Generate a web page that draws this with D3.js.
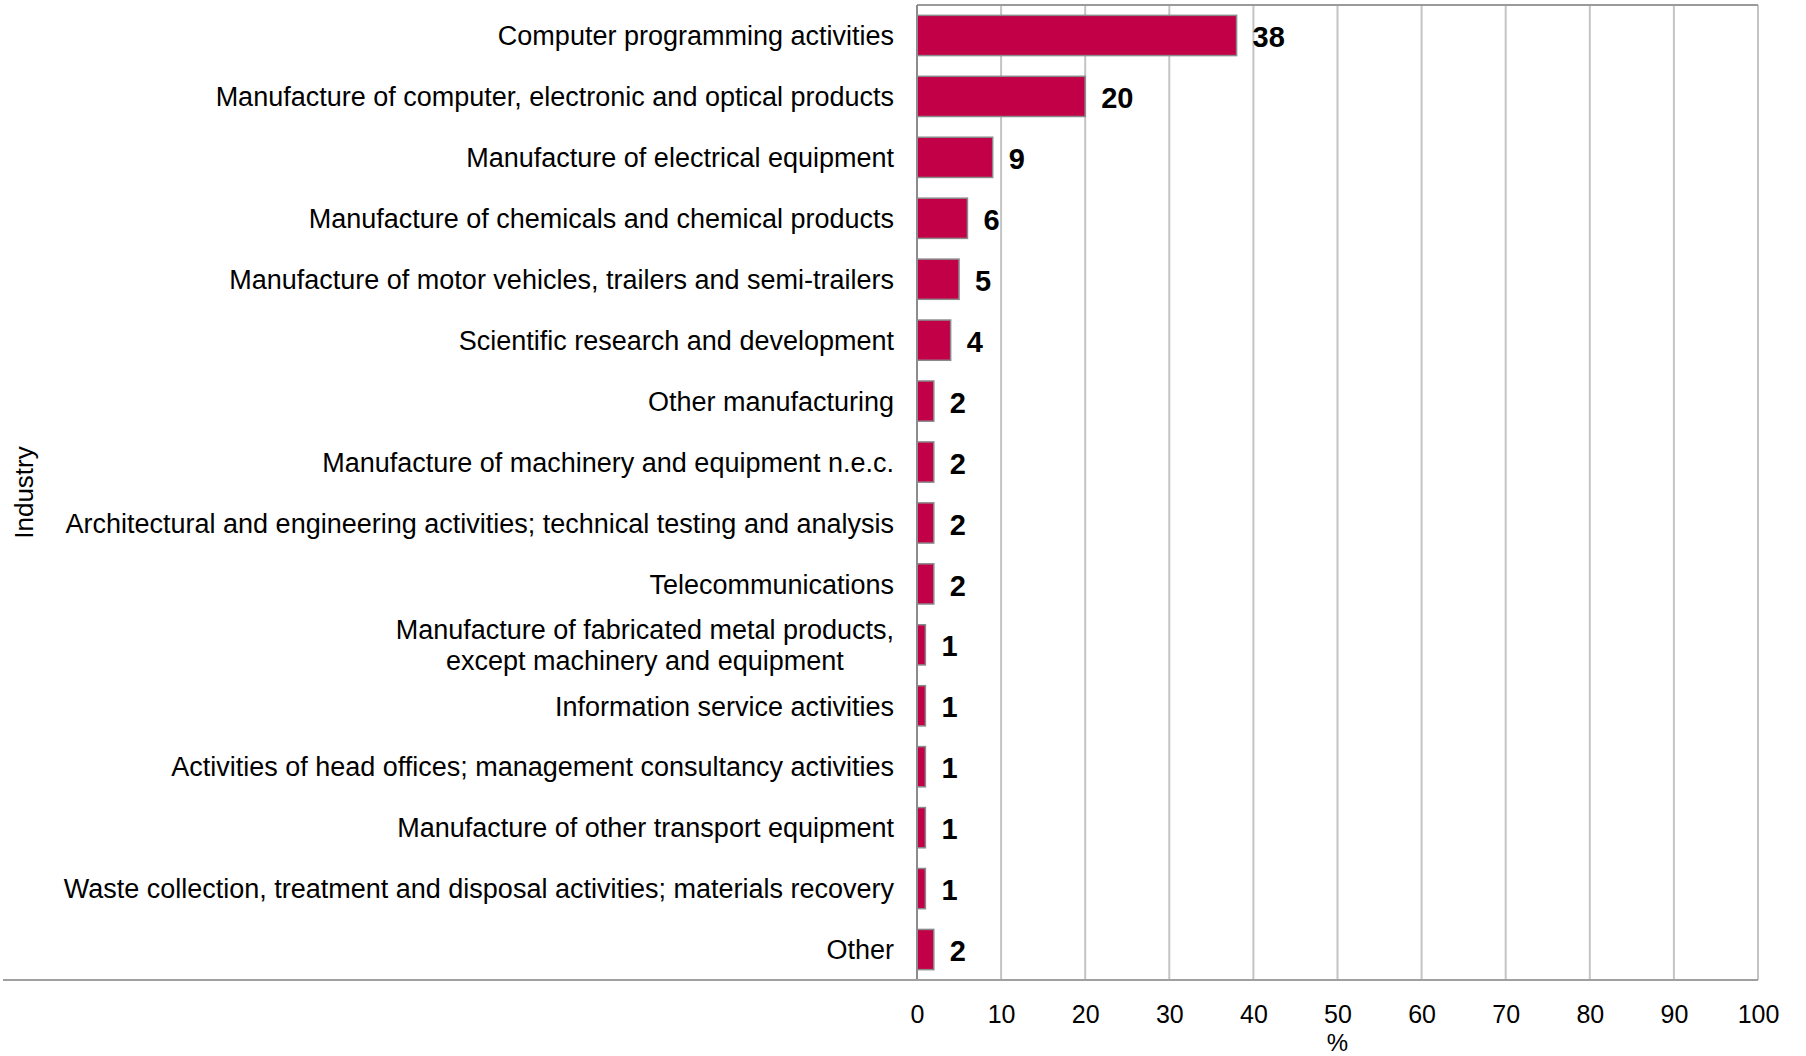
<!DOCTYPE html>
<html>
<head>
<meta charset="utf-8">
<script src="https://cdn.jsdelivr.net/npm/d3@7"></script>
<style>
  html, body { margin: 0; padding: 0; background: #ffffff; }
  svg { display: block; font-family: "Liberation Sans", Arial, sans-serif; }
</style>
</head>
<body>
<svg id="chart" width="1806" height="1056"></svg>
<script>
// Share of enterprises by industry, in percent
const industries = [
  "Computer programming activities",
  "Manufacture of computer, electronic and optical products",
  "Manufacture of electrical equipment",
  "Manufacture of chemicals and chemical products",
  "Manufacture of motor vehicles, trailers and semi-trailers",
  "Scientific research and development",
  "Other manufacturing",
  "Manufacture of machinery and equipment n.e.c.",
  "Architectural and engineering activities; technical testing and analysis",
  "Telecommunications",
  "Manufacture of fabricated metal products,\nexcept machinery and equipment",
  "Information service activities",
  "Activities of head offices; management consultancy activities",
  "Manufacture of other transport equipment",
  "Waste collection, treatment and disposal activities; materials recovery",
  "Other"
];
const shares = [38, 20, 9, 6, 5, 4, 2, 2, 2, 2, 1, 1, 1, 1, 1, 2];
const xTicks = [0, 10, 20, 30, 40, 50, 60, 70, 80, 90, 100];
const xTitle = "%";
const yTitle = "Industry";

const svg = d3.select("#chart");

const plot = { left: 917, right: 1758, top: 5, bottom: 980 };

const x = d3.scaleLinear().domain([0, 100]).range([plot.left, plot.right]);
const y = d3.scaleBand()
  .domain(industries)
  .range([plot.top, plot.bottom])
  .paddingInner(0.34)
  .paddingOuter(0.17);

// vertical gridlines (the 100 line closes the plot on the right)
svg.append("g")
  .selectAll("line")
  .data(xTicks.filter(d => d > 0))
  .join("line")
  .attr("x1", d => x(d)).attr("x2", d => x(d))
  .attr("y1", plot.top).attr("y2", plot.bottom)
  .attr("stroke", "#c4c4c4")
  .attr("stroke-width", 2);

// top border of the plot
svg.append("line")
  .attr("x1", x(0)).attr("x2", x(100))
  .attr("y1", plot.top).attr("y2", plot.top)
  .attr("stroke", "#9a9a9a").attr("stroke-width", 2);

// bars
svg.append("g")
  .selectAll("rect")
  .data(shares)
  .join("rect")
  .attr("x", x(0))
  .attr("y", (d, i) => y(industries[i]))
  .attr("width", d => x(d) - x(0))
  .attr("height", y.bandwidth())
  .attr("fill", "#c10047")
  .attr("stroke", "#8a8a8a")
  .attr("stroke-width", 1.5);

// value axis at zero
svg.append("line")
  .attr("x1", x(0)).attr("x2", x(0))
  .attr("y1", plot.top).attr("y2", plot.bottom)
  .attr("stroke", "#8c8c8c").attr("stroke-width", 2);

// bottom rule across the full width
svg.append("line")
  .attr("x1", 3).attr("x2", x(100))
  .attr("y1", plot.bottom).attr("y2", plot.bottom)
  .attr("stroke", "#a0a0a0").attr("stroke-width", 2);

// value labels
svg.append("g")
  .selectAll("text")
  .data(shares)
  .join("text")
  .attr("x", d => x(d) + 16)
  .attr("y", (d, i) => y(industries[i]) + y.bandwidth() / 2)
  .attr("dy", "0.4em")
  .attr("font-size", 29)
  .attr("font-weight", "bold")
  .attr("fill", "#000")
  .text(d => d);

// category labels (multi-line labels are centred on their widest line)
const labelRight = 894;
const catG = svg.append("g");
industries.forEach(name => {
  const lines = name.split("\n");
  const cy = y(name) + y.bandwidth() / 2;
  const lh = 31;
  const t = catG.append("text")
    .attr("font-size", 27)
    .attr("fill", "#000");
  lines.forEach((ln, k) => {
    t.append("tspan")
      .attr("x", 0)
      .attr("y", cy + (k - (lines.length - 1) / 2) * lh)
      .attr("dy", "0.36em")
      .text(ln);
  });
  if (lines.length === 1) {
    t.attr("text-anchor", "end").selectAll("tspan").attr("x", labelRight);
  } else {
    t.attr("text-anchor", "middle");
    const w = d3.max(t.selectAll("tspan").nodes(), n => n.getComputedTextLength());
    t.selectAll("tspan").attr("x", labelRight - w / 2);
  }
});

// tick labels along the bottom
const xAxis = d3.axisBottom(x)
  .tickValues(xTicks)
  .tickSize(0)
  .tickPadding(0)
  .tickFormat(d3.format("d"));
const axG = svg.append("g")
  .attr("transform", `translate(0, 1005)`)
  .call(xAxis);
axG.select(".domain").remove();
axG.selectAll("text")
  .attr("font-size", 25)
  .attr("font-family", "\"Liberation Sans\", Arial, sans-serif")
  .attr("fill", "#000");

// axis titles
svg.append("text")
  .attr("x", x(50))
  .attr("y", 1051)
  .attr("text-anchor", "middle")
  .attr("font-size", 24)
  .attr("fill", "#000")
  .text(xTitle);

svg.append("text")
  .attr("transform", `translate(33, ${(plot.top + plot.bottom) / 2}) rotate(-90)`)
  .attr("text-anchor", "middle")
  .attr("font-size", 26)
  .attr("fill", "#000")
  .text(yTitle);
</script>
</body>
</html>
